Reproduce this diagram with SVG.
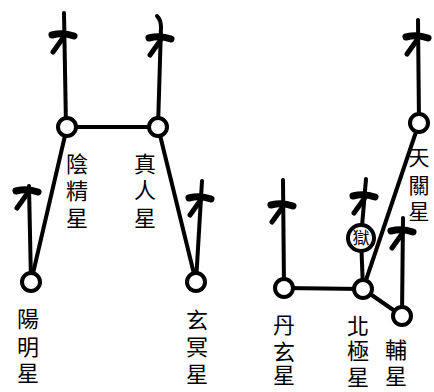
<svg xmlns="http://www.w3.org/2000/svg" xmlns:xlink="http://www.w3.org/1999/xlink" width="434" height="392" viewBox="0 0 434 392">
<style>
.ln{stroke:#000;stroke-width:4;fill:none;stroke-linecap:round;stroke-linejoin:round}
.nd{fill:#fff;stroke:#000;stroke-width:4}
.lb{font-family:"Noto Sans CJK TC","Noto Sans CJK JP",serif;font-size:22px;fill:#000;text-anchor:middle}
</style>
<defs>
<g id="tuft">
<path d="M-12,0 Q-1,-3 10,1" stroke="#000" stroke-width="7" fill="none" stroke-linecap="round"/>
<path d="M-1,3 L-11,17" stroke="#000" stroke-width="5" fill="none" stroke-linecap="round"/>
</g>
</defs>
<rect width="434" height="392" fill="#fff"/>
<g id="connectors">
<path class="ln" d="M67,127 L158,127"/>
<path class="ln" d="M67,127 L31,282"/>
<path class="ln" d="M158,127 L196,282"/>
<path class="ln" d="M284,288 L363,289"/>
<path class="ln" d="M363,289 L419,123"/>
<path class="ln" d="M363,289 L402,316"/>
<path class="ln" d="M363,289 L361,238"/>
<path class="ln" d="M66,127 L64,13"/>
<path class="ln" d="M158,127 L161,27 Q161,20 157,16"/>
<path class="ln" d="M31,282 L29,186"/>
<path class="ln" d="M196,282 L202,181"/>
<path class="ln" d="M284,288 L283,180"/>
<path class="ln" d="M361,238 L366,179"/>
<path class="ln" d="M402,316 L403,218"/>
<path class="ln" d="M419,123 L418,20"/>
<use xlink:href="#tuft" transform="translate(64,35)"/>
<use xlink:href="#tuft" transform="translate(161,38)"/>
<use xlink:href="#tuft" transform="translate(28,191)"/>
<use xlink:href="#tuft" transform="translate(201,198)"/>
<use xlink:href="#tuft" transform="translate(283,205)"/>
<use xlink:href="#tuft" transform="translate(365,196)"/>
<use xlink:href="#tuft" transform="translate(403,231)"/>
<use xlink:href="#tuft" transform="translate(418,37)"/>
</g>
<g id="yinjing"><circle class="nd" cx="67" cy="127" r="9"/><text class="lb" x="77" y="172">陰</text><text class="lb" x="77" y="199">精</text><text class="lb" x="77" y="226">星</text></g>
<g id="zhenren"><circle class="nd" cx="158" cy="127" r="9"/><text class="lb" x="145" y="172">真</text><text class="lb" x="145" y="198">人</text><text class="lb" x="145" y="226">星</text></g>
<g id="yangming"><circle class="nd" cx="31" cy="282" r="9"/><text class="lb" x="28" y="327">陽</text><text class="lb" x="28" y="355">明</text><text class="lb" x="28" y="381">星</text></g>
<g id="xuanming"><circle class="nd" cx="196" cy="282" r="9"/><text class="lb" x="197" y="328">玄</text><text class="lb" x="197" y="355">冥</text><text class="lb" x="197" y="382">星</text></g>
<g id="tianguan"><circle class="nd" cx="419" cy="123" r="9"/><text class="lb" x="419" y="165" style="font-size:21px">天</text><text class="lb" x="419" y="193" style="font-size:21px">關</text><text class="lb" x="419" y="219" style="font-size:21px">星</text></g>
<g id="yu"><circle class="nd" cx="361" cy="238" r="13" stroke-width="3.5"/><text class="lb" x="361" y="244" style="font-size:17px">獄</text></g>
<g id="danxuan"><circle class="nd" cx="284" cy="288" r="9"/><text class="lb" x="284" y="333">丹</text><text class="lb" x="284" y="360">玄</text><text class="lb" x="284" y="383">星</text></g>
<g id="beiji"><circle class="nd" cx="363" cy="289" r="9"/><text class="lb" x="358" y="334">北</text><text class="lb" x="358" y="359">極</text><text class="lb" x="358" y="385">星</text></g>
<g id="fu"><circle class="nd" cx="402" cy="316" r="9"/><text class="lb" x="396" y="358">輔</text><text class="lb" x="396" y="384">星</text></g>
</svg>
